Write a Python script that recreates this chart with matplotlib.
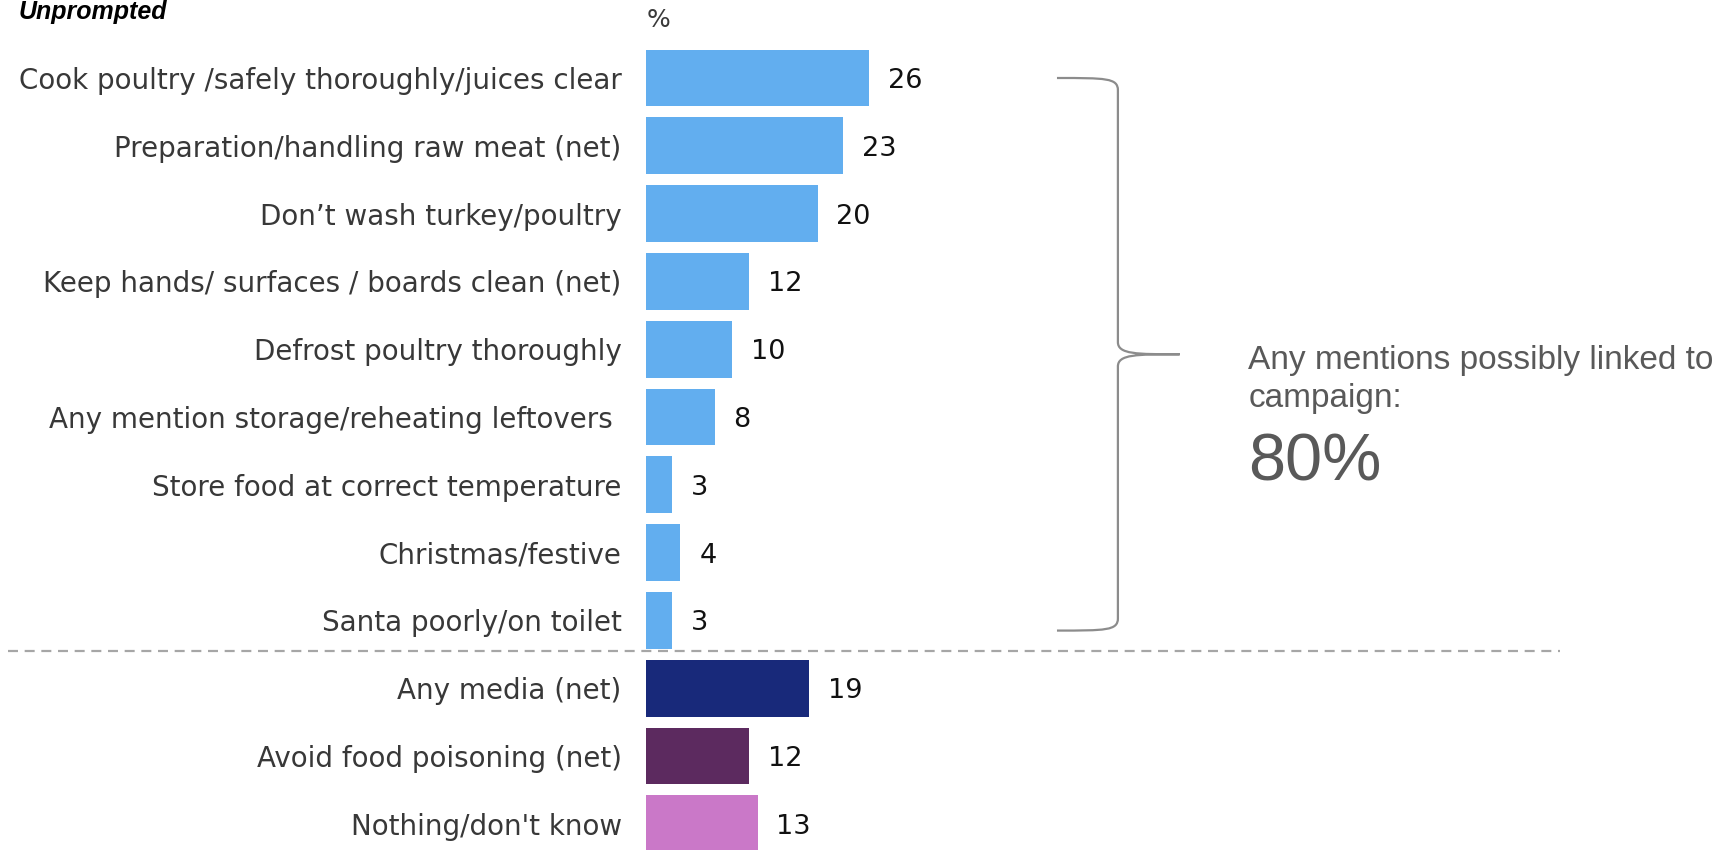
import matplotlib
matplotlib.use("Agg")
import matplotlib.pyplot as plt
from matplotlib.path import Path
from matplotlib.patches import PathPatch

# recall of the campaign, unprompted, % of respondents
labels = [
    "Cook poultry /safely thoroughly/juices clear",
    "Preparation/handling raw meat (net)",
    "Don\u2019t wash turkey/poultry",
    "Keep hands/ surfaces / boards clean (net)",
    "Defrost poultry thoroughly",
    "Any mention storage/reheating leftovers ",
    "Store food at correct temperature",
    "Christmas/festive",
    "Santa poorly/on toilet",
    "Any media (net)",
    "Avoid food poisoning (net)",
    "Nothing/don't know",
]
values = [26, 23, 20, 12, 10, 8, 3, 4, 3, 19, 12, 13]
colors = ["#62aeef"] * 9 + ["#18297a", "#5c2a5f", "#ca78c8"]
n_campaign = 9
campaign_total = 80

W, H = 1735, 850
fig = plt.figure(figsize=(W / 100, H / 100), dpi=100)
ax = fig.add_axes([0, 0, 1, 1])

px_per_unit = 8.58
x0_px = 646
ax.set_xlim(-x0_px / px_per_unit, (W - x0_px) / px_per_unit)
top_px, step_px = 78, 67.8
ax.set_ylim((H - top_px) / step_px, -top_px / step_px)

ypos = list(range(len(labels)))
ax.barh(ypos, values, height=0.84, color=colors, zorder=2)

for y, v in zip(ypos, values):
    ax.text(v + 2.2, y, str(v), va="center_baseline", ha="left", fontsize=19.5, color="#111111")

# category labels sit on the left spine moved to x=0
ax.spines["left"].set_position(("data", 0))
for s in ax.spines.values():
    s.set_visible(False)
ax.set_yticks(ypos)
ax.set_yticklabels(labels, fontsize=20, color="#383838", va="center_baseline")
ax.tick_params(axis="y", length=0, pad=17.5)
ax.set_xticks([])

ax.text(0.1, -0.86, "%", fontsize=18, color="#3a3a3a", va="center", ha="left")

# separator between campaign mentions and the rest
sep = n_campaign - 1 + 0.45
ax.axhline(sep, xmin=8 / W, xmax=1560 / W, color="#a6a6a6", lw=1.6, ls=(0, (4.5, 3)))

# curly brace around the campaign mentions
bx0, bxm, bx1 = 47.9, 55.0, 62.2
by0, by1 = 0.0, n_campaign - 1 + 0.15
bym = (by0 + by1) / 2
r = 0.18
verts = [
    (bx0, by0), (bx0 + 0.8 * (bxm - bx0), by0), (bxm, by0), (bxm, by0 + r),
    (bxm, bym - r),
    (bxm, bym), (bxm + 0.3 * (bx1 - bxm), bym), (bx1, bym),
    (bxm + 0.3 * (bx1 - bxm), bym), (bxm, bym), (bxm, bym + r),
    (bxm, by1 - r),
    (bxm, by1), (bx0 + 0.8 * (bxm - bx0), by1), (bx0, by1),
]
codes = [Path.MOVETO, Path.CURVE4, Path.CURVE4, Path.CURVE4, Path.LINETO,
         Path.CURVE4, Path.CURVE4, Path.CURVE4,
         Path.CURVE4, Path.CURVE4, Path.CURVE4, Path.LINETO,
         Path.CURVE4, Path.CURVE4, Path.CURVE4]
ax.add_patch(PathPatch(Path(verts, codes), fill=False, edgecolor="#8c8c8c", lw=1.6))

tx = 70.2
ax.text(tx, 4.16, "Any mentions possibly linked to", fontsize=24,
        family="Liberation Sans", color="#595959", va="center", ha="left")
ax.text(tx, 4.73, "campaign:", fontsize=24,
        family="Liberation Sans", color="#595959", va="center", ha="left")
ax.text(tx, 5.68, f"{campaign_total}%", fontsize=48,
        family="Liberation Sans", color="#595959", va="center", ha="left")

fig.text(19 / W, 1 - 19 / H, "Unprompted", fontsize=18, family="Liberation Sans",
         fontweight="bold", fontstyle="italic", color="black", va="baseline", ha="left")

fig.savefig("out.png", dpi=100)
